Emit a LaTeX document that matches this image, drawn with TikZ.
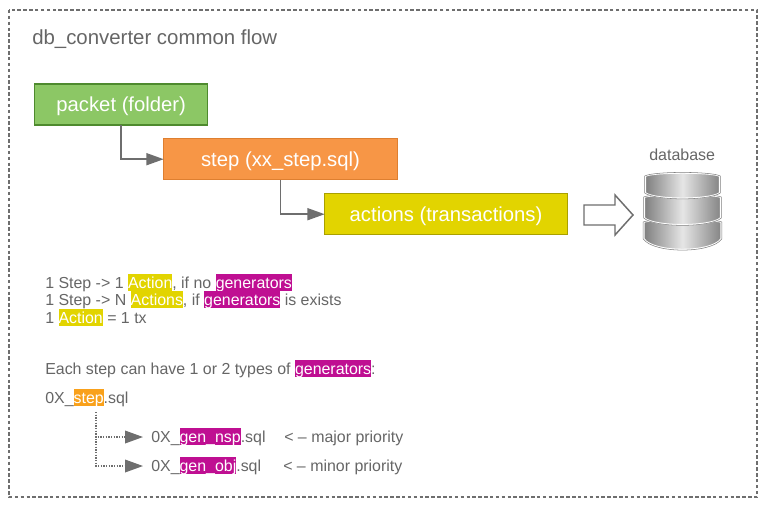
\documentclass[tikz,border=0pt]{standalone}
\usepackage{fontspec}
\setmainfont{Liberation Sans}
\usetikzlibrary{arrows.meta}
\definecolor{txt}{HTML}{666666}
\definecolor{linec}{HTML}{6E6E6E}
\definecolor{hlyel}{HTML}{E2D400}
\definecolor{hlmag}{HTML}{BF0F92}
\definecolor{hlora}{HTML}{F9A11B}
\definecolor{greenf}{HTML}{8CC765}
\definecolor{greend}{HTML}{4E8A2E}
\definecolor{orangef}{HTML}{F79646}
\definecolor{oranged}{HTML}{DE7F30}
\definecolor{yellowd}{HTML}{A9A000}
\newcommand{\hlt}[2]{{\setlength{\fboxsep}{0pt}\colorbox{#1}{\rule[-2.25pt]{0pt}{12.75pt}\textcolor{white}{#2}}}}
\newcommand{\dbdisc}[6]{%
  % left x, right x, top-edge y, bottom-edge y, top bulge, bottom bulge
  \path[draw=white,line width=1.1pt,left color=black!50,right color=black!48,middle color=black!10]
    (#1,#3) .. controls (#1+8,#3-#5) and (#2-8,#3-#5) .. (#2,#3)
    -- (#2,#4) .. controls (#2-10,#4+#6) and (#1+10,#4+#6) .. (#1,#4) -- cycle;
  \draw[black!50,line width=.4pt]
    (#1-.8,#3) .. controls (#1+8,#3-#5-.8) and (#2-8,#3-#5-.8) .. (#2+.8,#3)
    -- (#2+.8,#4) .. controls (#2-10,#4+#6+.8) and (#1+10,#4+#6+.8) .. (#1-.8,#4) -- cycle;
}
\tikzset{
  x=0.75pt,y=-0.75pt,
  flowbox/.style={draw,line width=1.1pt,text=white,font=\fontsize{15.2}{17}\selectfont,minimum height=30.75pt,inner sep=0pt,outer sep=0pt,anchor=north west,text height=12pt,text depth=1.5pt},
  plain/.style={text=txt,anchor=base west,inner sep=0pt,font=\fontsize{11.95}{13}\selectfont,text height=9.75pt,text depth=2.25pt},
  flowarrow/.style={draw=linec,line width=1.2pt,-{Triangle[length=13pt,width=9pt,fill=linec]}},
  dotarrow/.style={draw=linec,line width=1pt,dash pattern=on 1pt off 1pt,-{Triangle[length=13.5pt,width=9.5pt,fill=linec]},shorten >=6pt},
}
\begin{document}
\begin{tikzpicture}
\useasboundingbox[fill=white] (0,0) rectangle (768,508);
\draw[draw=linec,line width=.9pt,dash pattern=on 2.6pt off 1.8pt] (9,10) rectangle (757,497);
\node[plain,font=\fontsize{15.3}{17}\selectfont] (title) at (32,44) {db\_converter common flow};

\node[flowbox,fill=greenf,draw=greend,minimum width=129.75pt] (packet) at (34.7,84) {packet (folder)};
\node[flowbox,fill=orangef,draw=oranged,minimum width=175.2pt] (stepn) at (163.7,138.7) {step (xx\_step.sql)};
\node[flowbox,fill=hlyel,draw=yellowd,minimum width=182pt] (actions) at (324.7,193.7) {actions (transactions)};
\draw[flowarrow] (packet.south) |- (stepn.west);
\draw[flowarrow] (stepn.south) |- (actions.west);

\draw[draw=linec,line width=1.1pt,fill=white,line join=miter]
  (584,205) -- (615,205) -- (615,195) -- (633,215) -- (615,235) -- (615,225) -- (584,225) -- cycle;

\node[plain,font=\fontsize{12}{13}\selectfont] (dblabel) at (649,160) {database};
\dbdisc{644}{721}{222}{239}{3}{14}
\dbdisc{644.5}{720.5}{197}{218}{3}{9}
\dbdisc{645.5}{719.5}{176}{193}{4}{7}

\node[plain] (l1) at (45,288) {1 Step -> 1 \hlt{hlyel}{Action}, if no \hlt{hlmag}{generators}};
\node[plain] (l2) at (45,305) {1 Step -> N \hlt{hlyel}{Actions}, if \hlt{hlmag}{generators} is exists};
\node[plain] (l3) at (45,323) {1 \hlt{hlyel}{Action} = 1 tx};
\node[plain] (l4) at (45,374) {Each step can have 1 or 2 types of \hlt{hlmag}{generators}:};
\node[plain] (sf) at (45,403) {0X\_\hlt{hlora}{step}.sql};
\node[plain] (nsp) at (151,442) {0X\_\hlt{hlmag}{gen\_nsp}.sql};
\node[plain] (obj) at (151,471) {0X\_\hlt{hlmag}{gen\_obj}.sql};
\node[plain] (maj) at (284,442) {< – major priority};
\node[plain] (mnr) at (283,471) {< – minor priority};
\coordinate (fork) at (96,412);
\draw[dotarrow] (fork) |- (nsp.west);
\draw[dotarrow] (fork) |- (obj.west);
\end{tikzpicture}
\end{document}
